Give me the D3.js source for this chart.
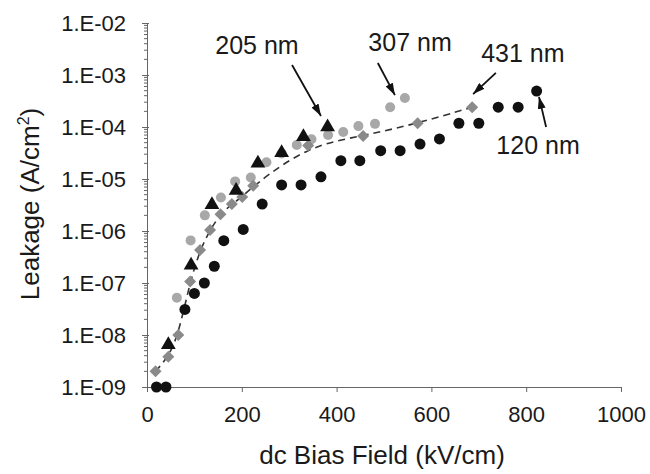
<!DOCTYPE html>
<html>
<head>
<meta charset="utf-8">
<script src="https://cdn.jsdelivr.net/npm/d3@7"></script>
<style>
  html, body { margin: 0; padding: 0; background: #fff; }
  svg { display: block; font-family: "Liberation Sans", Arial, sans-serif; }
</style>
</head>
<body>
<svg id="chart" width="650" height="474"></svg>
<script>
// ---------------- data ----------------
const xTicks = [0, 200, 400, 600, 800, 1000];
const yTickLabels = ["1.E-09", "1.E-08", "1.E-07", "1.E-06", "1.E-05", "1.E-04", "1.E-03", "1.E-02"];
const yTickValues = [1e-9, 1e-8, 1e-7, 1e-6, 1e-5, 1e-4, 1e-3, 1e-2];

// 120 nm: black circles
const s120x = [20, 40, 80, 100, 121, 142, 162, 203, 243, 284, 325, 367, 409, 449, 493, 534, 576, 617, 658, 700, 741, 783, 822];
const s120y = [1e-9, 1e-9, 3.1e-8, 6.3e-8, 1e-7, 2.1e-7, 6.5e-7, 1.07e-6, 3.3e-6, 7.7e-6, 7.7e-6, 1.1e-5, 2.25e-5, 2.25e-5, 3.5e-5, 3.5e-5, 4.7e-5, 5.9e-5, 1.18e-4, 1.18e-4, 2.4e-4, 2.4e-4, 4.9e-4];

// 205 nm: black triangles
const s205x = [45, 93, 137, 188, 234, 284, 330, 381];
const s205y = [6.5e-9, 2.2e-7, 3.2e-6, 6e-6, 2e-5, 3.2e-5, 6.5e-5, 1.0e-4];

// 307 nm: light gray circles
const s307x = [63, 92, 122, 156, 186, 219, 252, 284, 316, 347, 382, 414, 446, 481, 513, 544];
const s307y = [5.2e-8, 6.6e-7, 2e-6, 4.4e-6, 9e-6, 1.07e-5, 2.1e-5, 3.1e-5, 4.5e-5, 5.8e-5, 7e-5, 8e-5, 1.04e-4, 1.15e-4, 2.4e-4, 3.6e-4];

// 431 nm: gray diamonds (dashed trend)
const s431x = [18, 45, 66, 91, 112, 133, 155, 179, 201, 224, 340, 456, 571, 686];
const s431y = [2e-9, 3.8e-9, 1e-8, 1.07e-7, 4.3e-7, 1.05e-6, 2.1e-6, 3.3e-6, 4.5e-6, 7.4e-6, 4.4e-5, 6.7e-5, 1.18e-4, 2.4e-4];

// annotations (data coordinates)
const annoText = ["205 nm", "307 nm", "431 nm", "120 nm"];
const annoTx = [232, 555, 793, 825];
const annoTy = [3.78e-3, 4.3e-3, 2.65e-3, 4.5e-5];
const arrowFromX = [306, 487, 736, 842];
const arrowFromY = [1.56e-3, 1.7e-3, 1.1e-3, 1.0e-4];
const arrowToX = [367, 523, 688, 827];
const arrowToY = [1.63e-4, 4.1e-4, 4.3e-4, 3.8e-4];

// ---------------- chart ----------------
const svg = d3.select("#chart");
const x = d3.scaleLinear().domain([0, 1000]).range([147, 621]);
const y = d3.scaleLog().domain([1e-9, 1e-2]).range([387, 23]);

const axisColor = "#666";

// y minor ticks
const minor = [];
for (let e = -9; e < -2; e++) for (let m = 2; m <= 9; m++) minor.push(m * Math.pow(10, e));
svg.append("g").selectAll("line").data(minor).join("line")
  .attr("x1", x(0) - 3).attr("x2", x(0))
  .attr("y1", d => y(d)).attr("y2", d => y(d))
  .attr("stroke", axisColor).attr("stroke-width", 1);

// y axis
const yAxis = d3.axisLeft(y).tickValues(yTickValues)
  .tickFormat((d, i) => yTickLabels[i]).tickSizeInner(5).tickSizeOuter(0).tickPadding(16);
const gy = svg.append("g").attr("transform", `translate(${x(0)},0)`).call(yAxis);
gy.select(".domain").attr("stroke", axisColor);
gy.selectAll(".tick line").attr("stroke", axisColor).attr("x2", -5).attr("x1", 2);
gy.selectAll(".tick text").attr("font-size", 22).attr("fill", "#1a1a1a")
  .attr("font-family", "Liberation Sans, Arial, sans-serif");

// x axis
const xAxis = d3.axisBottom(x).tickValues(xTicks).tickFormat(d3.format("d"))
  .tickSizeInner(5).tickSizeOuter(0).tickPadding(14);
const gx = svg.append("g").attr("transform", `translate(0,${y(1e-9)})`).call(xAxis);
gx.select(".domain").attr("stroke", axisColor);
gx.selectAll(".tick line").attr("stroke", axisColor);
gx.selectAll(".tick text").attr("font-size", 22).attr("fill", "#1a1a1a")
  .attr("font-family", "Liberation Sans, Arial, sans-serif");

// axis titles
svg.append("text")
  .attr("x", 382).attr("y", 464)
  .attr("text-anchor", "middle").attr("font-size", 26).attr("fill", "#1a1a1a")
  .text("dc Bias Field (kV/cm)");

const yt = svg.append("text")
  .attr("transform", "translate(39,204) rotate(-90)")
  .attr("text-anchor", "middle").attr("font-size", 26).attr("fill", "#1a1a1a");
yt.append("tspan").text("Leakage (A/cm");
yt.append("tspan").attr("font-size", 16).attr("dy", -10).text("2");
yt.append("tspan").attr("dy", 10).text(")");

// dashed trend for 431 nm
const d431 = s431x.map((v, i) => [v, s431y[i]]);
svg.append("path")
  .datum(d431)
  .attr("fill", "none").attr("stroke", "#333").attr("stroke-width", 1.6)
  .attr("stroke-dasharray", "7,5")
  .attr("d", d3.line().x(d => x(d[0])).y(d => y(d[1])).curve(d3.curveBasis));

// 307 nm gray circles
svg.append("g").selectAll("circle").data(s307x.map((v, i) => [v, s307y[i]])).join("circle")
  .attr("cx", d => x(d[0])).attr("cy", d => y(d[1])).attr("r", 5)
  .attr("fill", "#a8a8a8");

// 431 nm diamonds (rotated squares)
svg.append("g").selectAll("path").data(d431).join("path")
  .attr("transform", d => `translate(${x(d[0])},${y(d[1])}) rotate(45)`)
  .attr("d", d3.symbol().type(d3.symbolSquare).size(72))
  .attr("fill", "#8a8a8a");

// 205 nm triangles
svg.append("g").selectAll("path").data(s205x.map((v, i) => [v, s205y[i]])).join("path")
  .attr("transform", d => `translate(${x(d[0])},${y(d[1])})`)
  .attr("d", d3.symbol().type(d3.symbolTriangle).size(95))
  .attr("fill", "#111");

// 120 nm black circles
svg.append("g").selectAll("circle").data(s120x.map((v, i) => [v, s120y[i]])).join("circle")
  .attr("cx", d => x(d[0])).attr("cy", d => y(d[1])).attr("r", 5.5)
  .attr("fill", "#111");

// arrows
svg.append("defs").append("marker")
  .attr("id", "ah").attr("viewBox", "0 0 12 8").attr("refX", 12).attr("refY", 4)
  .attr("markerWidth", 12).attr("markerHeight", 8).attr("markerUnits", "userSpaceOnUse")
  .attr("orient", "auto")
  .append("path").attr("d", "M0,0 L12,4 L0,8 Z").attr("fill", "#111");

svg.append("g").selectAll("line").data(annoText.map((t, i) => i)).join("line")
  .attr("x1", i => x(arrowFromX[i])).attr("y1", i => y(arrowFromY[i]))
  .attr("x2", i => x(arrowToX[i])).attr("y2", i => y(arrowToY[i]))
  .attr("stroke", "#111").attr("stroke-width", 1.8).attr("marker-end", "url(#ah)");

svg.append("g").selectAll("text").data(annoText.map((t, i) => i)).join("text")
  .attr("x", i => x(annoTx[i])).attr("y", i => y(annoTy[i]))
  .attr("text-anchor", "middle").attr("dominant-baseline", "central")
  .attr("font-size", 25).attr("fill", "#1a1a1a")
  .text(i => annoText[i]);
</script>
</body>
</html>
